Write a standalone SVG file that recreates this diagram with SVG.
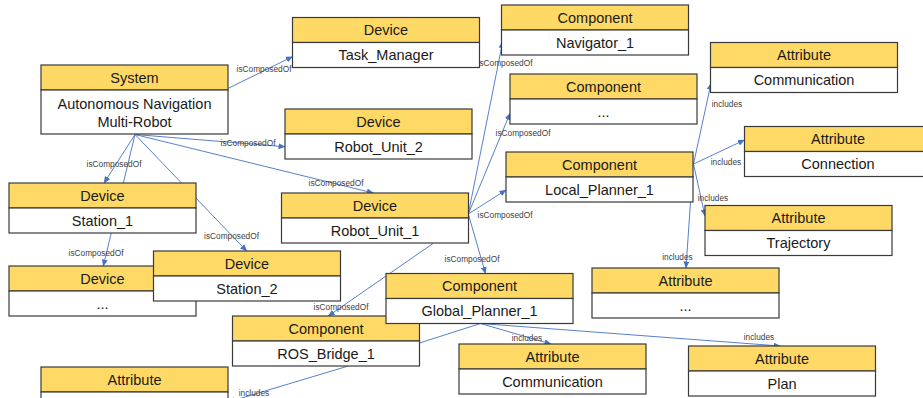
<svg xmlns="http://www.w3.org/2000/svg" width="923" height="398" viewBox="0 0 923 398">
<defs>
<style>
.h{fill:#FFD966;stroke:#3a3a3a;stroke-width:1.2}
.b{fill:#FFFFFF;stroke:#3a3a3a;stroke-width:1.2}
.t{font-family:"Liberation Sans",Arial,sans-serif;font-size:14.5px;fill:#1a1a1a;text-anchor:middle}
.l{font-family:"Liberation Sans",Arial,sans-serif;font-size:8.3px;fill:#404040;text-anchor:middle}
.c{stroke:#4472C4;stroke-width:0.9;fill:none}
.a{marker-end:url(#arr)}
</style>
<marker id="arr" markerUnits="userSpaceOnUse" markerWidth="7" markerHeight="6" refX="6.5" refY="3" orient="auto">
<path d="M0,0 L7,3 L0,6 Z" fill="#4472C4"/>
</marker>
</defs>
<rect x="0" y="0" width="923" height="398" fill="#FFFFFF"/>
<g id="connectors">
<line class="c a" x1="228.3" y1="88.3" x2="292.5" y2="56.7"/>
<line class="c a" x1="135" y1="134.5" x2="285" y2="146.7"/>
<line class="c a" x1="135" y1="134.5" x2="373.3" y2="193"/>
<line class="c a" x1="135" y1="134.5" x2="104" y2="183"/>
<line class="c a" x1="135" y1="134.5" x2="246.7" y2="251"/>
<line class="c a" x1="135" y1="134.5" x2="103.3" y2="266"/>
<line class="c a" x1="468.3" y1="214" x2="502.7" y2="41.7"/>
<line class="c a" x1="468.3" y1="214" x2="510" y2="113.3"/>
<line class="c a" x1="468.3" y1="214" x2="506" y2="190"/>
<line class="c a" x1="468.3" y1="214" x2="485.5" y2="273.5"/>
<line class="c a" x1="433.3" y1="243.3" x2="328.3" y2="316"/>
<line class="c a" x1="348.3" y1="366" x2="228.5" y2="402"/>
<line class="c a" x1="480.5" y1="323.5" x2="551" y2="344"/>
<line class="c a" x1="480.5" y1="323.5" x2="780" y2="346"/>
<line class="c" x1="480.5" y1="323.5" x2="419.5" y2="343"/>
<line class="c a" x1="693.5" y1="164" x2="711" y2="83.3"/>
<line class="c a" x1="693.5" y1="164" x2="744.5" y2="140"/>
<line class="c a" x1="693.5" y1="164" x2="705" y2="216"/>
<line class="c a" x1="690.5" y1="202" x2="686" y2="268"/>
<text class="l" x="264" y="72">isComposedOf</text>
<text class="l" x="248" y="146">isComposedOf</text>
<text class="l" x="336" y="186">isComposedOf</text>
<text class="l" x="114" y="167">isComposedOf</text>
<text class="l" x="231.5" y="239">isComposedOf</text>
<text class="l" x="96" y="256">isComposedOf</text>
<text class="l" x="505" y="66">isComposedOf</text>
<text class="l" x="523" y="136">isComposedOf</text>
<text class="l" x="505" y="218">isComposedOf</text>
<text class="l" x="472" y="262">isComposedOf</text>
<text class="l" x="341" y="310">isComposedOf</text>
<text class="l" x="254" y="396">includes</text>
<text class="l" x="527" y="341">includes</text>
<text class="l" x="759" y="340">includes</text>
<text class="l" x="727" y="107">includes</text>
<text class="l" x="726" y="165">includes</text>
<text class="l" x="713" y="201">includes</text>
<text class="l" x="677.5" y="260">includes</text>
</g>
<g id="system">
<rect class="h" x="41" y="65" width="187" height="25"/>
<rect class="b" x="41" y="90" width="187" height="44"/>
<text class="t" x="134.5" y="83">System</text>
<text class="t" x="134.5" y="108.5">Autonomous Navigation</text>
<text class="t" x="134.5" y="127">Multi-Robot</text>
</g>
<g id="task_manager">
<rect class="h" x="292.5" y="17.5" width="187" height="25"/>
<rect class="b" x="292.5" y="42.5" width="187" height="25"/>
<text class="t" x="386" y="35">Device</text>
<text class="t" x="386" y="60">Task_Manager</text>
</g>
<g id="robot_unit_2">
<rect class="h" x="285" y="109" width="187" height="25"/>
<rect class="b" x="285" y="134" width="187" height="25"/>
<text class="t" x="378.5" y="126.5">Device</text>
<text class="t" x="378.5" y="151.5">Robot_Unit_2</text>
</g>
<g id="robot_unit_1">
<rect class="h" x="281.5" y="193" width="187" height="25"/>
<rect class="b" x="281.5" y="218" width="187" height="25"/>
<text class="t" x="375" y="210.5">Device</text>
<text class="t" x="375" y="235.5">Robot_Unit_1</text>
</g>
<g id="station_1">
<rect class="h" x="9" y="183" width="187" height="25"/>
<rect class="b" x="9" y="208" width="187" height="25"/>
<text class="t" x="102.5" y="200.5">Device</text>
<text class="t" x="102.5" y="225.5">Station_1</text>
</g>
<g id="device_more">
<rect class="h" x="9" y="266" width="187" height="25"/>
<rect class="b" x="9" y="291" width="187" height="25"/>
<text class="t" x="102.5" y="283.5">Device</text>
<text class="t" x="102.5" y="308.5">...</text>
</g>
<g id="station_2">
<rect class="h" x="153.5" y="251" width="187" height="25"/>
<rect class="b" x="153.5" y="276" width="187" height="25"/>
<text class="t" x="247" y="268.5">Device</text>
<text class="t" x="247" y="293.5">Station_2</text>
</g>
<g id="ros_bridge_1">
<rect class="h" x="232.5" y="316" width="187" height="25"/>
<rect class="b" x="232.5" y="341" width="187" height="25"/>
<text class="t" x="326" y="333.5">Component</text>
<text class="t" x="326" y="358.5">ROS_Bridge_1</text>
</g>
<g id="attribute_bottom_left">
<rect class="h" x="41" y="367" width="187" height="25"/>
<rect class="b" x="41" y="392" width="187" height="25"/>
<text class="t" x="134.5" y="384.5">Attribute</text>
</g>
<g id="global_planner_1">
<rect class="h" x="386" y="273.5" width="187" height="25"/>
<rect class="b" x="386" y="298.5" width="187" height="25"/>
<text class="t" x="479.5" y="291">Component</text>
<text class="t" x="479.5" y="316">Global_Planner_1</text>
</g>
<g id="attr_communication_2">
<rect class="h" x="459" y="344" width="187" height="25"/>
<rect class="b" x="459" y="369" width="187" height="25"/>
<text class="t" x="552.5" y="361.5">Attribute</text>
<text class="t" x="552.5" y="386.5">Communication</text>
</g>
<g id="attr_plan">
<rect class="h" x="688.5" y="346" width="187" height="25"/>
<rect class="b" x="688.5" y="371" width="187" height="25"/>
<text class="t" x="782" y="363.5">Attribute</text>
<text class="t" x="782" y="388.5">Plan</text>
</g>
<g id="attr_more">
<rect class="h" x="592" y="268" width="187" height="25"/>
<rect class="b" x="592" y="293" width="187" height="25"/>
<text class="t" x="685.5" y="285.5">Attribute</text>
<text class="t" x="685.5" y="310.5">...</text>
</g>
<g id="attr_trajectory">
<rect class="h" x="705" y="205.5" width="187" height="25"/>
<rect class="b" x="705" y="230.5" width="187" height="25"/>
<text class="t" x="798.5" y="223">Attribute</text>
<text class="t" x="798.5" y="248">Trajectory</text>
</g>
<g id="local_planner_1">
<rect class="h" x="506" y="152" width="187" height="25"/>
<rect class="b" x="506" y="177" width="187" height="25"/>
<text class="t" x="599.5" y="169.5">Component</text>
<text class="t" x="599.5" y="194.5">Local_Planner_1</text>
</g>
<g id="component_more">
<rect class="h" x="510" y="74" width="187" height="25"/>
<rect class="b" x="510" y="99" width="187" height="25"/>
<text class="t" x="603.5" y="91.5">Component</text>
<text class="t" x="603.5" y="116.5">...</text>
</g>
<g id="navigator_1">
<rect class="h" x="501.5" y="5" width="187" height="25"/>
<rect class="b" x="501.5" y="30" width="187" height="25"/>
<text class="t" x="595" y="22.5">Component</text>
<text class="t" x="595" y="47.5">Navigator_1</text>
</g>
<g id="attr_communication_1">
<rect class="h" x="710.5" y="42.5" width="187" height="25"/>
<rect class="b" x="710.5" y="67.5" width="187" height="25"/>
<text class="t" x="804" y="60">Attribute</text>
<text class="t" x="804" y="85">Communication</text>
</g>
<g id="attr_connection">
<rect class="h" x="744.5" y="126.5" width="187" height="25"/>
<rect class="b" x="744.5" y="151.5" width="187" height="25"/>
<text class="t" x="838" y="144">Attribute</text>
<text class="t" x="838" y="169">Connection</text>
</g>
</svg>
